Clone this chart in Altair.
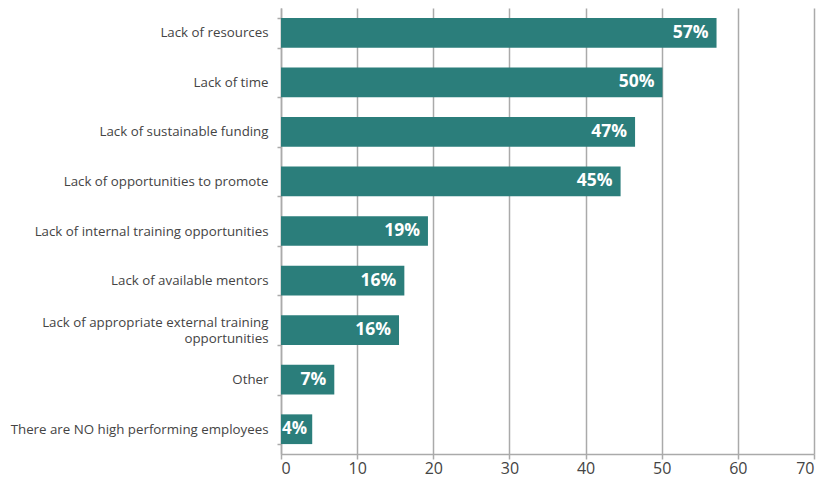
import altair as alt
import pandas as pd

categories = [
    "Lack of resources",
    "Lack of time",
    "Lack of sustainable funding",
    "Lack of opportunities to promote",
    "Lack of internal training opportunities",
    "Lack of available mentors",
    "Lack of appropriate external training|opportunities",
    "Other",
    "There are NO high performing employees",
]
values = [57.2, 50.1, 46.5, 44.6, 19.3, 16.2, 15.5, 7.0, 4.1]
labels = ["57%", "50%", "47%", "45%", "19%", "16%", "16%", "7%", "4%"]

df = pd.DataFrame({"cat": categories, "val": values, "lab": labels})

FONT = "Open Sans"
TEAL = "#2b7e7b"

y_enc = alt.Y(
    "cat:N",
    sort=categories,
    title=None,
    scale=alt.Scale(paddingInner=0.4, paddingOuter=0.2),
    axis=alt.Axis(
        labelExpr="isValid(datum.value) ? split(datum.value, '|') : ''",
        labelFont=FONT,
        labelFontSize=13.3,
        labelColor="#444444",
        labelPadding=9,
        labelLineHeight=16.5,
        labelLimit=400,
        labelOffset={"condition": {"test": "isValid(datum.value) && indexof(datum.value, '|') >= 0", "value": -8}, "value": 0},
        domainColor="#aaaaaa",
        domainWidth=1.5,
        tickColor="#aaaaaa",
        tickWidth=1.5,
        tickSize=4,
        tickBand="extent",
        grid=False,
    ),
)

x_enc = alt.X(
    "val:Q",
    title=None,
    scale=alt.Scale(domain=[0, 70], nice=False),
    axis=alt.Axis(
        values=[0, 10, 20, 30, 40, 50, 60, 70],
        labelFont=FONT,
        labelFontSize=16,
        labelColor="#444444",
        labelPadding=1,
        domainColor="#aaaaaa",
        domainWidth=1.5,
        tickColor="#aaaaaa",
        tickWidth=1.5,
        tickSize=5,
        grid=True,
        gridColor="#aaaaaa",
        gridWidth=1.5,
    ),
)

base = alt.Chart(df)
bars = base.mark_bar(color=TEAL).encode(x=x_enc, y=y_enc)
text_big = base.transform_filter("datum.val >= 5").mark_text(
    align="right", baseline="middle", dx=-8, font=FONT, fontSize=17.5,
    fontWeight="bold", color="white"
).encode(x="val:Q", y=alt.Y("cat:N", sort=categories), text="lab:N")
text_small = base.transform_filter("datum.val < 5").mark_text(
    align="left", baseline="middle", dx=1, font=FONT, fontSize=17,
    fontWeight="bold", color="white"
).encode(x=alt.datum(0), y=alt.Y("cat:N", sort=categories), text="lab:N")

chart = (bars + text_big + text_small).properties(
    width=533, height=446,
    autosize=alt.AutoSizeParams(type="none"),
    padding={"left": 273, "top": 0, "right": 8, "bottom": 23},
).configure_view(stroke=None)

chart.save("out.html", embed_options={"renderer": "svg", "actions": False})
